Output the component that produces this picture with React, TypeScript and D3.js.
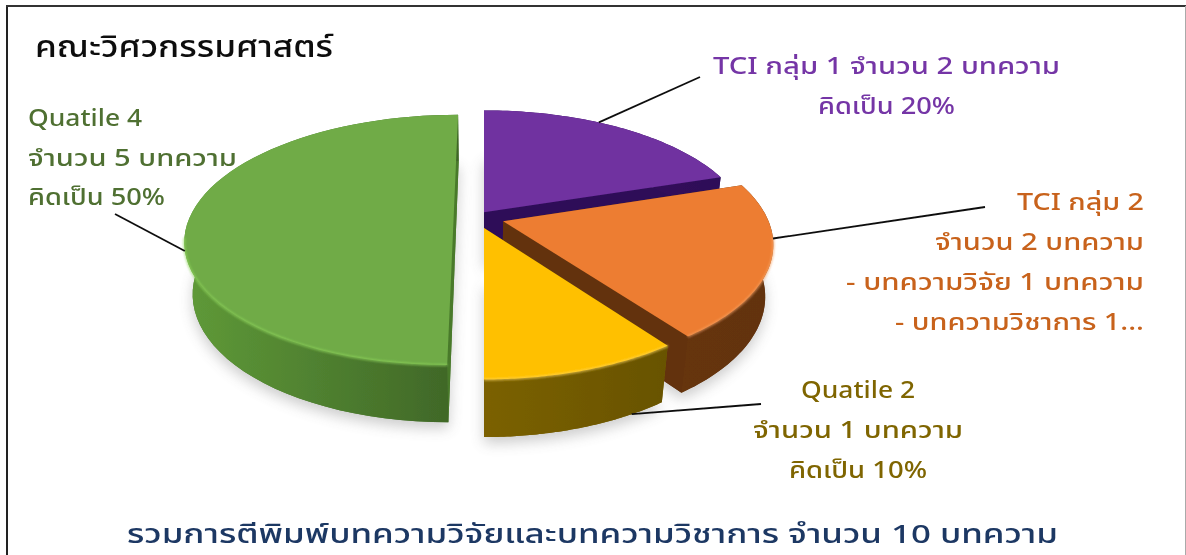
import React from "react";
import * as d3 from "d3";

const WIDTH = 1186;
const HEIGHT = 555;

const categories = ["TCI กลุ่ม 1", "TCI กลุ่ม 2", "Quatile 2", "Quatile 4"];
const articleCounts = [2, 2, 1, 5];
const topColors = ["#7030a0", "#ed7d31", "#ffc000", "#6fab47"];
const faceColors = ["#2e0f58", "#63330f", "#7a6000", "#4a7a2c"];
const wallLeft = ["#3a1660", "#66340f", "#7b6100", "#5f9a38"];
const wallRight = ["#2e0f58", "#63330f", "#685300", "#3f6627"];
const rimColors = ["#9a60c8", "#f7a468", "#ffd860", "#93d860"];
// how far each slice is pulled out of the pie (in pie-plane units)
const explodeU = [0, 0.072, 0, -0.115];
const explodeV = [0.065, -0.01, -0.065, 0.015];
// where along each slice's rim its leader starts, and whether on the lower edge
const leaderFraction = [0.42, 0.36, 0.2, 0.417];
const leaderOnBase = [false, false, true, false];
const leaderEnds: [number, number][] = [[700, 77], [985, 207], [761, 404], [115, 214]];

type Lbl = { t: string; x: number; w: number; y: number; c: string; s: number };
const green = "#4f7031", purple = "#7436a6", orange = "#c8621a", olive = "#7f6500", navy = "#1f3864";
const labels: Lbl[] = [
  { t: "คณะวิศวกรรมศาสตร์", x: 35, w: 298, y: 57, c: "#111111", s: 30 },
  { t: "Quatile 4", x: 28, w: 114, y: 126, c: green, s: 23 },
  { t: "จำนวน 5 บทความ", x: 28, w: 209, y: 166, c: green, s: 23 },
  { t: "คิดเป็น 50%", x: 28, w: 137, y: 205, c: green, s: 23 },
  { t: "TCI กลุ่ม 1 จำนวน 2 บทความ", x: 713, w: 347, y: 74, c: purple, s: 23 },
  { t: "คิดเป็น 20%", x: 818, w: 137, y: 114, c: purple, s: 23 },
  { t: "TCI กลุ่ม 2", x: 1017, w: 127, y: 210, c: orange, s: 23 },
  { t: "จำนวน 2 บทความ", x: 935, w: 209, y: 250, c: orange, s: 23 },
  { t: "- บทความวิจัย 1 บทความ", x: 846, w: 298, y: 290, c: orange, s: 23 },
  { t: "- บทความวิชาการ 1...", x: 895, w: 249, y: 330, c: orange, s: 23 },
  { t: "Quatile 2", x: 801, w: 114, y: 398, c: olive, s: 23 },
  { t: "จำนวน 1 บทความ", x: 753, w: 210, y: 438, c: olive, s: 23 },
  { t: "คิดเป็น 10%", x: 789, w: 138, y: 478, c: olive, s: 23 },
  { t: "รวมการตีพิมพ์บทความวิจัยและบทความวิชาการ จำนวน 10 บทความ", x: 127, w: 931, y: 543, c: navy, s: 26 },
];

// Perspective model of the tilted pie
const CX = 484, CY = 220, A = 265, B = 122, P = 0.174, R = 0.028, C = 53;
const project = (u: number, v: number, z: number): [number, number] => {
  const w = 1 + P * v + R * z;
  return [CX + (A * u) / w, CY + (-B * v + C * z) / w];
};

const line = d3.line<[number, number]>();
const slices = d3.pie<number>().sort(null).startAngle(0).endAngle(2 * Math.PI)(articleCounts);

const geom = slices.map((s, i) => {
  const du = explodeU[i], dv = explodeV[i];
  const at = (a: number, z: number) => project(Math.sin(a) + du, Math.cos(a) + dv, z);
  const apex = (z: number) => project(du, dv, z);
  const angles = d3.range(0, 61).map((k) => s.startAngle + ((s.endAngle - s.startAngle) * k) / 60);
  const topArc = angles.map((a) => at(a, 0));
  const baseArc = angles.map((a) => at(a, 1));
  const front = angles.filter((a) => Math.cos(a) < -0.12).map((a) => at(a, 0));
  return {
    i,
    top: line([apex(0), ...topArc])! + "Z",
    wall: line([...topArc, ...baseArc.slice().reverse()])! + "Z",
    face1: line([apex(0), topArc[0], baseArc[0], apex(1)])! + "Z",
    face2: line([apex(0), topArc[60], baseArc[60], apex(1)])! + "Z",
    base: line([apex(1), ...baseArc])! + "Z",
    rim: line(front) || "",
    leader: at(s.startAngle + (s.endAngle - s.startAngle) * leaderFraction[i], leaderOnBase[i] ? 1 : 0),
  };
});

const paintOrder = [0, 1, 3, 2];
const font = "'Noto Sans Thai', 'Noto Sans Thai Looped', Kanit, 'Noto Sans', 'DejaVu Sans', sans-serif";

export default function App() {
  return (
    <svg width={WIDTH} height={HEIGHT} style={{ position: "absolute", left: 0, top: 0, display: "block", background: "#fff" }}>
      <defs>
        <filter id="shadow" x="-20%" y="-20%" width="140%" height="140%"><feGaussianBlur stdDeviation="7" /></filter>
        <filter id="soft" x="-5%" y="-5%" width="110%" height="110%"><feGaussianBlur stdDeviation="0.5" /></filter>
        <filter id="softer" x="-5%" y="-20%" width="110%" height="140%"><feGaussianBlur stdDeviation="0.35" /></filter>
        <filter id="glow" x="-5%" y="-20%" width="110%" height="140%"><feGaussianBlur stdDeviation="1" /></filter>
        {geom.map((g) => (
          <linearGradient key={g.i} id={`wall${g.i}`} x1="0" x2="1" y1="0" y2="0">
            <stop offset="0" stopColor={wallLeft[g.i]} />
            <stop offset="1" stopColor={wallRight[g.i]} />
          </linearGradient>
        ))}
      </defs>

      <line x1="7" x2="7" y1="5" y2={HEIGHT} stroke="#222" strokeWidth="2" />
      <line x1="6" x2={WIDTH} y1="6" y2="6" stroke="#333" strokeWidth="2" />
      <line x1="1185.5" x2="1185.5" y1="6" y2={HEIGHT} stroke="#aaa" strokeWidth="1" />

      <g filter="url(#shadow)" opacity="0.3" transform="translate(0,6)">
        {geom.map((g) => <path key={g.i} d={g.base} fill="#555" />)}
      </g>

      <g filter="url(#soft)">
        {paintOrder.map((i) => {
          const g = geom[i];
          return (
            <g key={i} data-category={categories[i]}>
              <path d={g.base} fill={faceColors[i]} />
              <path d={g.face1} fill={faceColors[i]} />
              <path d={g.face2} fill={faceColors[i]} />
              <path d={g.wall} fill={`url(#wall${i})`} />
              <path d={g.top} fill={topColors[i]} />
              <path d={g.rim} fill="none" stroke={rimColors[i]} strokeWidth="2" opacity="0.75" filter="url(#glow)" />
            </g>
          );
        })}
      </g>

      <g stroke="#111" strokeWidth="1.8" filter="url(#softer)">
        {geom.map((g) => (
          <line key={g.i} x1={g.leader[0]} y1={g.leader[1]} x2={leaderEnds[g.i][0]} y2={leaderEnds[g.i][1]} />
        ))}
      </g>

      <g filter="url(#softer)" fontFamily={font} fontWeight={500}>
        {labels.map((l) => (
          <text key={l.t} x={l.x} y={l.y} fill={l.c} fontSize={l.s} textLength={l.w} lengthAdjust="spacingAndGlyphs">{l.t}</text>
        ))}
      </g>
    </svg>
  );
}
